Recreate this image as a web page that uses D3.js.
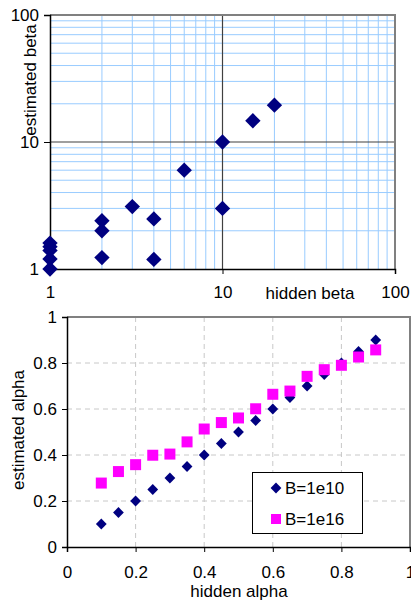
<!DOCTYPE html>
<html><head><meta charset="utf-8">
<script src="https://cdn.jsdelivr.net/npm/d3@7"></script>
<style>html,body{margin:0;padding:0;background:#fff;}svg{display:block;font-family:"Liberation Sans",Arial,sans-serif;}</style>
</head><body>
<script>
// ---- Top chart data (log-log) ----
const betaHidden = [1, 1, 1, 1, 1, 2, 2, 2, 3, 4, 4, 6, 10, 10, 15, 20];
const betaEstimated = [1, 1.2, 1.4, 1.5, 1.6, 1.23, 2.0, 2.4, 3.1, 1.19, 2.48, 6.0, 3.0, 10, 14.7, 19.5];
const betaTicks = [1, 10, 100];

// ---- Bottom chart data ----
const alphaHidden = [0.1,0.15,0.2,0.25,0.3,0.35,0.4,0.45,0.5,0.55,0.6,0.65,0.7,0.75,0.8,0.85,0.9];
const alphaB1e10 = [0.1,0.15,0.2,0.25,0.3,0.35,0.4,0.45,0.5,0.55,0.6,0.65,0.7,0.75,0.8,0.85,0.9];
const alphaB1e16 = [0.278,0.328,0.358,0.399,0.404,0.457,0.513,0.541,0.561,0.601,0.664,0.678,0.742,0.771,0.79,0.826,0.857];
const alphaTicks = [0, 0.2, 0.4, 0.6, 0.8, 1];
const seriesNames = ["B=1e10", "B=1e16"];

(function () {
const W = 411, H = 601;
const svg = d3.select("body").append("svg").attr("width", W).attr("height", H);
const FS = 17;

// ================= TOP CHART =================
const tx = d3.scaleLog().domain([1, 100]).range([50, 395]);
const ty = d3.scaleLog().domain([1, 100]).range([269, 15]);
const gTop = svg.append("g");

const minor = [];
[1, 10].forEach(d => { for (let k = 2; k <= 9; k++) minor.push(d * k); });

gTop.selectAll("line.vminor").data(minor).join("line")
  .attr("x1", d => tx(d)).attr("x2", d => tx(d))
  .attr("y1", ty(1)).attr("y2", ty(100))
  .attr("stroke", "#99ccff").attr("stroke-width", 1);
gTop.selectAll("line.hminor").data(minor).join("line")
  .attr("y1", d => ty(d)).attr("y2", d => ty(d))
  .attr("x1", tx(1)).attr("x2", tx(100))
  .attr("stroke", "#99ccff").attr("stroke-width", 1);
gTop.append("line").attr("x1", tx(10)).attr("x2", tx(10)).attr("y1", ty(1)).attr("y2", ty(100))
  .attr("stroke", "#404040").attr("stroke-width", 1.2);
gTop.append("line").attr("y1", ty(10)).attr("y2", ty(10)).attr("x1", tx(1)).attr("x2", tx(100))
  .attr("stroke", "#404040").attr("stroke-width", 1.2);
gTop.append("path").attr("d", `M${tx(1)},${ty(100)}H${tx(100)}V${ty(1)}`)
  .attr("fill", "none").attr("stroke", "#808080").attr("stroke-width", 2);

const txAxis = gTop.append("g").attr("transform", `translate(0,${ty(1)})`)
  .call(d3.axisBottom(tx).tickValues(betaTicks).tickFormat(d3.format("d")).tickSizeOuter(0).tickSize(5).tickPadding(12));
const tyAxis = gTop.append("g").attr("transform", `translate(${tx(1)},0)`)
  .call(d3.axisLeft(ty).tickValues(betaTicks).tickFormat(d3.format("d")).tickSizeOuter(0).tickSize(6).tickPadding(5));
[txAxis, tyAxis].forEach(a => {
  a.select(".domain").attr("stroke", "#000").attr("stroke-width", 1.5);
  a.selectAll(".tick line").attr("stroke", "#000");
  a.selectAll("text").attr("font-size", FS).attr("fill", "#000").attr("font-family", "Liberation Sans, Arial, sans-serif");
});

gTop.append("text").attr("x", 310).attr("y", 299).attr("text-anchor", "middle")
  .attr("font-size", FS).text("hidden beta");
gTop.append("text").attr("transform", "translate(36,80) rotate(-90)").attr("text-anchor", "middle")
  .attr("font-size", FS).text("estimated beta");

gTop.selectAll("path.pt").data(betaHidden.map((h, i) => [h, betaEstimated[i]])).join("path")
  .attr("d", d3.symbol().type(d3.symbolSquare).size(118)())
  .attr("transform", d => `translate(${tx(d[0])},${ty(d[1])}) rotate(45)`)
  .attr("fill", "#000080");

// ================= BOTTOM CHART =================
const bx = d3.scaleLinear().domain([0, 1]).range([67, 410]);
const by = d3.scaleLinear().domain([0, 1]).range([547, 317]);
const gBot = svg.append("g");
const inner = [0.2, 0.4, 0.6, 0.8];
gBot.selectAll("line.vg").data(inner).join("line")
  .attr("x1", d => bx(d)).attr("x2", d => bx(d)).attr("y1", by(0)).attr("y2", by(1))
  .attr("stroke", "#c8c8c8").attr("stroke-width", 1).attr("stroke-dasharray", "5,4");
gBot.selectAll("line.hg").data(inner).join("line")
  .attr("y1", d => by(d)).attr("y2", d => by(d)).attr("x1", bx(0)).attr("x2", bx(1))
  .attr("stroke", "#c8c8c8").attr("stroke-width", 1).attr("stroke-dasharray", "5,4");
gBot.append("path").attr("d", `M${bx(0)},${by(1)}H${bx(1)}V${by(0)}`)
  .attr("fill", "none").attr("stroke", "#808080").attr("stroke-width", 2);

const fmt = d => d === 0 || d === 1 ? String(d) : d3.format(".1f")(d);
const bxAxis = gBot.append("g").attr("transform", `translate(0,${by(0)})`)
  .call(d3.axisBottom(bx).tickValues(alphaTicks).tickFormat(fmt).tickSizeOuter(0).tickSize(5).tickPadding(14));
const byAxis = gBot.append("g").attr("transform", `translate(${bx(0)},0)`)
  .call(d3.axisLeft(by).tickValues(alphaTicks).tickFormat(fmt).tickSizeOuter(0).tickSize(5).tickPadding(5));
[bxAxis, byAxis].forEach(a => {
  a.select(".domain").attr("stroke", "#000").attr("stroke-width", 1.5);
  a.selectAll(".tick line").attr("stroke", "#000");
  a.selectAll("text").attr("font-size", FS).attr("fill", "#000").attr("font-family", "Liberation Sans, Arial, sans-serif");
});

gBot.append("text").attr("x", 239).attr("y", 597).attr("text-anchor", "middle")
  .attr("font-size", FS).text("hidden alpha");
gBot.append("text").attr("transform", "translate(24,430) rotate(-90)").attr("text-anchor", "middle")
  .attr("font-size", FS).text("estimated alpha");

gBot.selectAll("path.d10").data(alphaHidden.map((h, i) => [h, alphaB1e10[i]])).join("path")
  .attr("d", d3.symbol().type(d3.symbolSquare).size(58)())
  .attr("transform", d => `translate(${bx(d[0])},${by(d[1])}) rotate(45)`)
  .attr("fill", "#000080");
gBot.selectAll("path.d16").data(alphaHidden.map((h, i) => [h, alphaB1e16[i]])).join("path")
  .attr("d", d3.symbol().type(d3.symbolSquare).size(121)())
  .attr("transform", d => `translate(${bx(d[0])},${by(d[1])})`)
  .attr("fill", "#ff00ff");

const lg = gBot.append("g");
lg.append("rect").attr("x", 252.5).attr("y", 472.5).attr("width", 110).attr("height", 61)
  .attr("fill", "#fff").attr("stroke", "#000").attr("stroke-width", 1);
const legendY = [488, 519];
lg.append("path").attr("d", d3.symbol().type(d3.symbolSquare).size(58)())
  .attr("transform", `translate(276,${legendY[0]}) rotate(45)`).attr("fill", "#000080");
lg.append("path").attr("d", d3.symbol().type(d3.symbolSquare).size(100)())
  .attr("transform", `translate(276,${legendY[1]})`).attr("fill", "#ff00ff");
seriesNames.forEach((n, i) => {
  lg.append("text").attr("x", 285).attr("y", legendY[i]).attr("dy", "0.36em")
    .attr("font-size", FS).text(n);
});
})();
</script>
</body></html>
